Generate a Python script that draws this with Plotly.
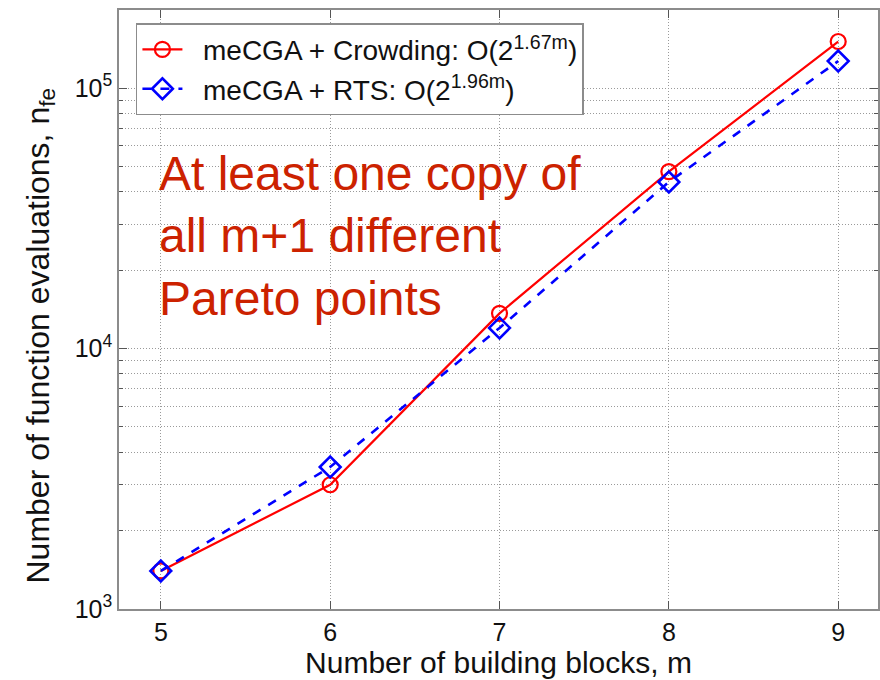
import plotly.graph_objects as go

# Problem size (number of building blocks)
m_values = [5, 6, 7, 8, 9]

# Number of function evaluations for each method
crowding_nfe = [1400, 3000, 13650, 47800, 151000]
rts_nfe = [1400, 3510, 12000, 43600, 127000]

crowding_name = "\u00a0\u00a0meCGA + Crowding: O(2<sup>1.67m</sup>)"
rts_name = "\u00a0\u00a0meCGA + RTS: O(2<sup>1.96m</sup>)"

y_tick_vals = [1e3, 1e4, 1e5]
y_tick_text = ["10<sup>3</sup>", "10<sup>4</sup>", "10<sup>5</sup>"]
# minor log ticks: 2..9 within each decade
y_minor_vals = [k * d for d in (1e3, 1e4, 1e5) for k in range(2, 10)]

y_title = "Number of function evaluations, n<sub>fe</sub>"
x_title = "Number of building blocks, m"
note_text = "At least one copy of<br>all m+1 different<br>Pareto points"

FONT = "Liberation Sans, Arial, sans-serif"
GRID = dict(showgrid=True, gridcolor="#9a9a9a", griddash="1px,2px", gridwidth=1)

fig = go.Figure()
fig.add_trace(go.Scatter(
    x=m_values, y=crowding_nfe, name=crowding_name, mode="lines+markers",
    line=dict(color="#ff0000", width=2.2),
    marker=dict(symbol="circle-open", size=15, color="#ff0000", line=dict(width=2.2)),
))
fig.add_trace(go.Scatter(
    x=m_values, y=rts_nfe, name=rts_name, mode="lines+markers",
    line=dict(color="#0000ff", width=2.6, dash="dash"),
    marker=dict(symbol="diamond-open", size=16, color="#0000ff", line=dict(width=2.6)),
))

axis_common = dict(
    showline=True, linecolor="#8c8c8c", linewidth=1.5, mirror="ticks",
    ticks="inside", tickcolor="#555", ticklen=8,
    zeroline=False,
    tickfont=dict(family=FONT, size=25, color="#111"),
    **GRID,
)

fig.update_xaxes(
    range=[4.753, 9.235], tickvals=m_values,
    title=dict(text=x_title, standoff=2,
               font=dict(family=FONT, size=30, color="#111")),
    **axis_common,
)
fig.update_yaxes(
    type="log", range=[3, 5.3], tickvals=y_tick_vals, ticktext=y_tick_text,
    minor=dict(tickvals=y_minor_vals, ticks="inside", ticklen=4, tickcolor="#555", **GRID),
    **axis_common,
)

# vertical axis title, placed as a rotated label left of the tick labels
fig.add_annotation(
    text=y_title, xref="paper", yref="paper", x=-0.104, y=0.455,
    xanchor="center", yanchor="middle", textangle=-90, showarrow=False,
    font=dict(family=FONT, size=32, color="#111"),
)

fig.add_annotation(
    text=note_text, xref="paper", yref="paper", x=0.05, y=0.775,
    xanchor="left", yanchor="top", align="left", showarrow=False,
    font=dict(family=FONT, size=48, color="#cc2200"),
)

fig.update_layout(
    width=880, height=680,
    margin=dict(l=119, r=0, t=10, b=71),
    paper_bgcolor="white", plot_bgcolor="white",
    showlegend=True,
    legend=dict(
        x=0.0223, y=0.978, xanchor="left", yanchor="top",
        bgcolor="white", bordercolor="#8c8c8c", borderwidth=1.5,
        font=dict(family=FONT, size=28, color="#111"),
        itemwidth=40,
    ),
)

fig.write_html("out.html")
